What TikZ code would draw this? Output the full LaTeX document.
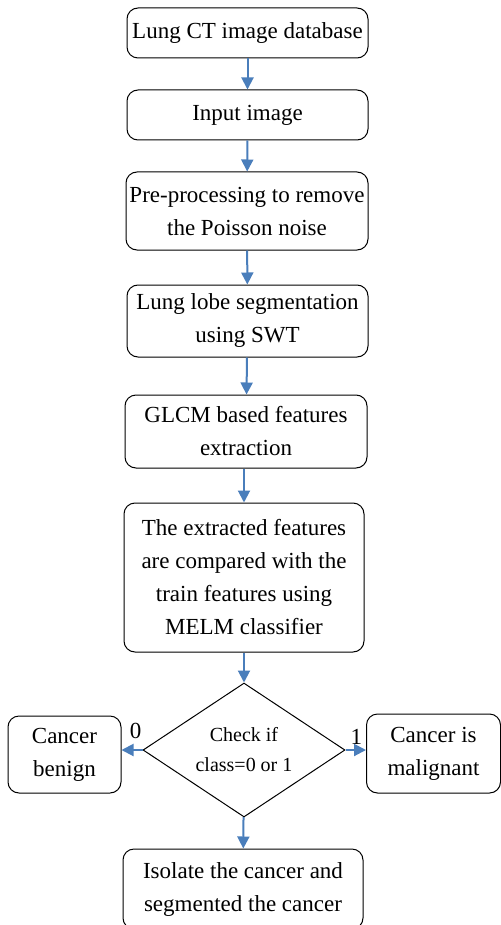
\documentclass[tikz,border=0pt]{standalone}
\usepackage{fontspec}
\setmainfont{Liberation Serif}
\usetikzlibrary{positioning, shapes.geometric, arrows.meta}
\definecolor{pfeilblau}{RGB}{74,126,187}
\tikzset{
    kasten/.style={
        draw=black,          % schwarze Kontur
        fill=white,
        rounded corners=5.5pt,
        align=center,
        inner sep=0pt,
        line width=0.5pt,
        font=\fontsize{11.5}{16.5}\selectfont
    },
    raute/.style={
        diamond,
        draw=black,
        fill=white,
        aspect=1.5,
        inner sep=0pt,
        align=center,
        line width=0.5pt,
        font=\fontsize{10}{15}\selectfont
    },
    pfeil/.style={
        draw=pfeilblau,
        line width=1pt,
        -{Triangle[length=6pt,width=6pt]}
    }
}
\begin{document}
\begin{tikzpicture}[x=0.5pt,y=-0.5pt]

    \useasboundingbox (0,0) rectangle (500,925);

    % Kästen von oben nach unten
    \node[kasten, minimum width=120.5pt, minimum height=25pt] (db) at (247.5,33) {Lung CT image database};
    \node[kasten, minimum width=120.5pt, minimum height=25pt] (eingabe) at (247.5,115) {Input image};
    \node[kasten, minimum width=121pt, minimum height=39pt] (vorverarb) at (247,211) {Pre-processing to remove\\the Poisson noise};
    \node[kasten, minimum width=120.5pt, minimum height=36pt] (segment) at (247.5,321) {Lung lobe segmentation\\using SWT};
    \node[kasten, minimum width=121pt, minimum height=36.5pt] (glcm) at (246,431.5) {GLCM based features\\extraction};
    \node[kasten, minimum width=120pt, minimum height=74.5pt] (vergleich) at (244,577.5) {The extracted features\\are compared with the\\train features using\\MELM classifier};

    % Entscheidung
    \node[raute, minimum width=101pt, minimum height=67pt] (pruefung) at (244,750) {Check if\\class=0 or 1};

    % Ergebnisse links, rechts und unten
    \node[kasten, minimum width=56.5pt, minimum height=38.5pt] (gutartig) at (64.5,754.5) {Cancer\\benign};
    \node[kasten, minimum width=67pt, minimum height=39.5pt] (boesartig) at (433.5,753.5) {Cancer is\\malignant};
    \node[kasten, minimum width=120pt, minimum height=40pt] (isolieren) at (243,889) {Isolate the cancer and\\segmented the cancer};

    % Pfeile
    \draw[pfeil] (db) -- (eingabe);
    \draw[pfeil] (eingabe) -- (vorverarb);
    \draw[pfeil] (vorverarb) -- (segment);
    \draw[pfeil] (segment) -- (glcm);
    \draw[pfeil] (glcm.south -| vergleich) -- (vergleich);
    \draw[pfeil] (vergleich) -- (pruefung);
    \draw[pfeil] (pruefung.west) -- (pruefung.west -| gutartig.east);
    \draw[pfeil] (pruefung.east) -- (pruefung.east -| boesartig.west);
    \draw[pfeil] (pruefung) -- (isolieren);

    % Beschriftungen der Zweige
    \node[font=\fontsize{11.5}{15}\selectfont, above left=2pt and -3pt of pruefung.west] (null) {0};
    \node[font=\fontsize{11.5}{15}\selectfont, above right=-1pt and -1pt of pruefung.east] (eins) {1};

\end{tikzpicture}
\end{document}
